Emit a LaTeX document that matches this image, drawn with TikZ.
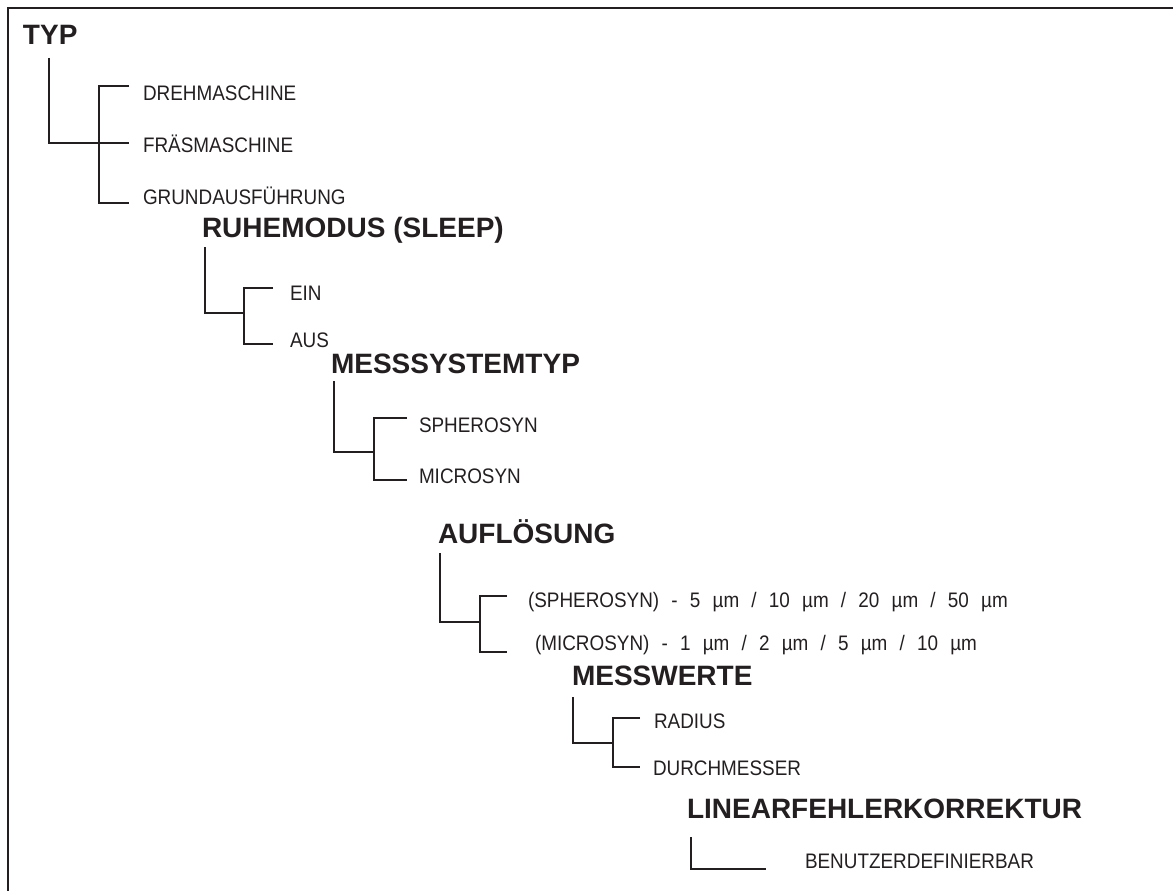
\documentclass[tikz,border=0pt]{standalone}
\usepackage{fontspec}
\setmainfont{Liberation Sans}
\newfontfamily\condfont[FakeStretch=0.9]{Liberation Sans}
\newcommand\widesp{\spaceskip=12.2pt\relax}
\definecolor{ink}{RGB}{35,31,32}
\begin{document}
\begin{tikzpicture}[x=1pt,y=-1pt,
  head/.style={anchor=base west,inner sep=0pt,outer sep=0pt,text=ink,font=\fontsize{28}{30}\selectfont\bfseries},
  item/.style={anchor=base west,inner sep=0pt,outer sep=0pt,text=ink,font=\fontsize{21}{23}\selectfont\condfont},
  wide/.style={anchor=base west,inner sep=0pt,outer sep=0pt,text=ink,font=\fontsize{21}{23}\selectfont\condfont\widesp},
  tree/.style={draw=ink,line width=2pt,line cap=butt,line join=miter},
  frame/.style={draw=ink,line width=2.2pt}]
\useasboundingbox (0,0) rectangle (1173,891);
% frame (top and left edges)
\coordinate (fbl) at (8,891);
\coordinate (fc) at (8,8);
\coordinate (ftr) at (1173,8);
\draw[frame] (fbl) -- (fc) -- (ftr);

% TYP
\node[head] (typ) at (23,45) {TYP};
\node[item] (dreh) at (143,100) {DREHMASCHINE};
\node[item] (fraes) at (143,152) {FRÄSMASCHINE};
\node[item] (grund) at (143,204) {GRUNDAUSFÜHRUNG};
\coordinate (t0) at (49,58);
\coordinate (t1) at (49,143);
\coordinate (t2) at (129,143);
\coordinate (t3) at (129,86);
\coordinate (t4) at (99,86);
\coordinate (t5) at (99,203);
\coordinate (t6) at (129,203);
\draw[tree] (t0) -- (t1) -- (t2);
\draw[tree] (t3) -- (t4) -- (t5) -- (t6);

% RUHEMODUS
\node[head] (ruhe) at (202,237) {RUHEMODUS (SLEEP)};
\node[item] (ein) at (290,300) {EIN};
\node[item] (aus) at (290,347) {AUS};
\coordinate (r0) at (205,247);
\coordinate (r1) at (205,313);
\coordinate (r2) at (244,313);
\coordinate (r3) at (273,288);
\coordinate (r4) at (244,288);
\coordinate (r5) at (244,344);
\coordinate (r6) at (273,344);
\draw[tree] (r0) -- (r1) -- (r2);
\draw[tree] (r3) -- (r4) -- (r5) -- (r6);

% MESSSYSTEMTYP
\node[head] (mess) at (331,373) {MESSSYSTEMTYP};
\node[item] (sph) at (419,432) {SPHEROSYN};
\node[item] (mic) at (419,483) {MICROSYN};
\coordinate (m0) at (334,381);
\coordinate (m1) at (334,452);
\coordinate (m2) at (374,452);
\coordinate (m3) at (407,418);
\coordinate (m4) at (374,418);
\coordinate (m5) at (374,480);
\coordinate (m6) at (407,480);
\draw[tree] (m0) -- (m1) -- (m2);
\draw[tree] (m3) -- (m4) -- (m5) -- (m6);

% AUFLOESUNG
\node[head] (aufl) at (438,543) {AUFLÖSUNG};
\node[wide] (asph) at (528,607) {(SPHEROSYN) - 5 µm / 10 µm / 20 µm / 50 µm};
\node[wide] (amic) at (535,650) {(MICROSYN) - 1 µm / 2 µm / 5 µm / 10 µm};
\coordinate (a0) at (440,553);
\coordinate (a1) at (440,622);
\coordinate (a2) at (480,622);
\coordinate (a3) at (507,596);
\coordinate (a4) at (480,596);
\coordinate (a5) at (480,652);
\coordinate (a6) at (507,652);
\draw[tree] (a0) -- (a1) -- (a2);
\draw[tree] (a3) -- (a4) -- (a5) -- (a6);

% MESSWERTE
\node[head] (mw) at (572,685) {MESSWERTE};
\node[item] (rad) at (654,728) {RADIUS};
\node[item] (dur) at (653,775) {DURCHMESSER};
\coordinate (w0) at (573,697);
\coordinate (w1) at (573,743);
\coordinate (w2) at (613,743);
\coordinate (w3) at (640,718);
\coordinate (w4) at (613,718);
\coordinate (w5) at (613,767);
\coordinate (w6) at (640,767);
\draw[tree] (w0) -- (w1) -- (w2);
\draw[tree] (w3) -- (w4) -- (w5) -- (w6);

% LINEARFEHLERKORREKTUR
\node[head] (lin) at (687,818) {LINEARFEHLERKORREKTUR};
\node[item] (ben) at (805,868) {BENUTZERDEFINIERBAR};
\coordinate (l0) at (691,837);
\coordinate (l1) at (691,869);
\coordinate (l2) at (766,869);
\draw[tree] (l0) -- (l1) -- (l2);
\end{tikzpicture}
\end{document}
